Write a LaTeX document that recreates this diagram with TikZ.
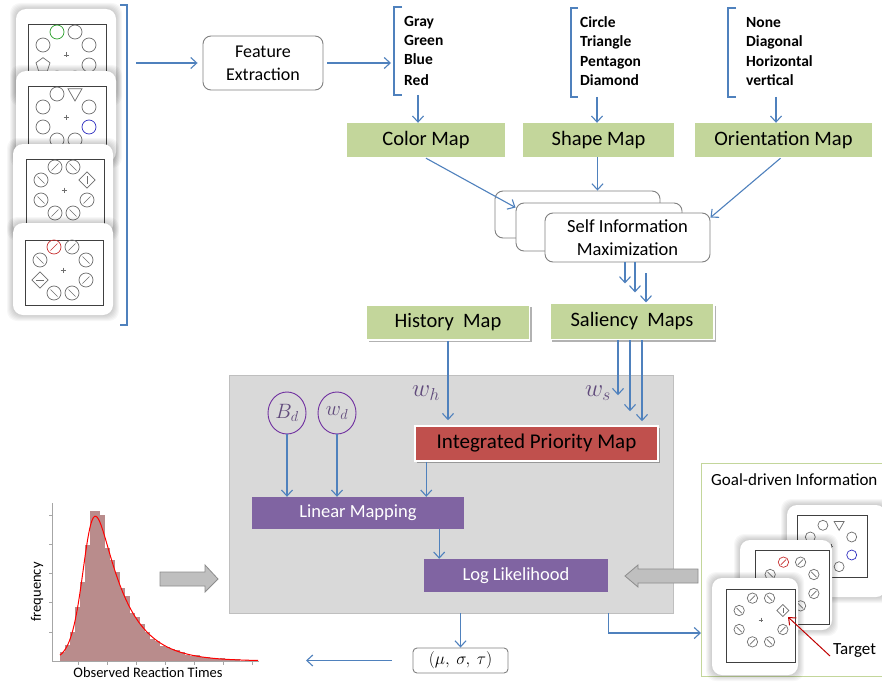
\documentclass[tikz,border=0pt]{standalone}
\usepackage{fontspec}
\setmainfont{Carlito}
\usetikzlibrary{arrows.meta,calc,shapes.geometric,shadows}
\definecolor{linkblue}{HTML}{4F81BD}
\definecolor{gfill}{HTML}{C3D69B}
\definecolor{pfill}{HTML}{8064A2}
\definecolor{rfill}{HTML}{C0504D}
\definecolor{modelbg}{HTML}{D9D9D9}
\definecolor{modeledge}{HTML}{BFBFBF}
\definecolor{mathpurp}{HTML}{604A7B}
\definecolor{circpurp}{HTML}{7030A0}
\definecolor{histbar}{HTML}{B98C8C}
\definecolor{stimgray}{HTML}{6E6E6E}
\definecolor{stimgreen}{HTML}{2CA02C}
\definecolor{stimblue}{HTML}{3030C0}
\definecolor{stimred}{HTML}{C83232}
\definecolor{blockfill}{HTML}{BFBFBF}
\definecolor{blockedge}{HTML}{8C8C8C}
\definecolor{boxedge}{HTML}{808080}
\definecolor{targetred}{HTML}{C00000}
\newcommand\fsz[2]{\fontsize{#1}{#2}\selectfont}
% stimulus items
\newcommand\iC[2][stimgray]{\draw[#1,line width=0.7pt] (#2) circle[radius=\ir];}
\newcommand\iS[3][stimgray]{\draw[#1,line width=0.7pt] (#2) circle[radius=\ir];
  \draw[#1,line width=0.7pt] (#2) ++({-.5*\ir},{(#3)*.5*\ir}) -- ++({\ir},{-(#3)*\ir});}
\newcommand\iT[2][stimgray]{\draw[#1,line width=0.7pt] (#2) ++({-\ir},{-.75*\ir}) -- ++({2*\ir},0) -- ++({-\ir},{1.75*\ir}) -- cycle;}
\newcommand\iP[2][stimgray]{\draw[#1,line width=0.7pt] (#2) ++(0,{-1.05*\ir}) -- ++({-1.0*\ir},{.73*\ir}) -- ++({.38*\ir},{1.17*\ir}) -- ++({1.24*\ir},0) -- ++({.38*\ir},{-1.17*\ir}) -- cycle;}
\newcommand\iDv[2][stimgray]{\draw[#1,line width=0.7pt] (#2) ++(0,{-1.15*\ir}) -- ++({1.15*\ir},{1.15*\ir}) -- ++({-1.15*\ir},{1.15*\ir}) -- ++({-1.15*\ir},{-1.15*\ir}) -- cycle;
  \draw[#1,line width=0.7pt] (#2) ++(0,{-.55*\ir}) -- ++(0,{1.1*\ir});}
\newcommand\iDh[2][stimgray]{\draw[#1,line width=0.7pt] (#2) ++(0,{-1.15*\ir}) -- ++({1.15*\ir},{1.15*\ir}) -- ++({-1.15*\ir},{1.15*\ir}) -- ++({-1.15*\ir},{-1.15*\ir}) -- cycle;
  \draw[#1,line width=0.7pt] (#2) ++({-.55*\ir},0) -- ++({1.1*\ir},0);}
\newcommand\stimcard[8]{%
  \foreach \k in {1,...,6}{\fill[black,opacity=0.03,rounded corners=10pt] ({#1-\k},{#2-\k}) rectangle ({#3+\k},{#4+\k});}
  \fill[white,rounded corners=10pt] (#1,#2) rectangle (#3,#4);
  \draw[black!75,line width=0.8pt] (#5,#6) rectangle (#7,#8);}
\newcommand\panelsetup[2]{\def\ps{#1}\def\ir{#2}%
  \coordinate (TL) at (-9*\ps,-23*\ps); \coordinate (TR) at (9*\ps,-23*\ps);
  \coordinate (RU) at (23*\ps,-10*\ps); \coordinate (RL) at (23*\ps,10*\ps);
  \coordinate (BR) at (9*\ps,23*\ps); \coordinate (BL) at (-9*\ps,23*\ps);
  \coordinate (LL) at (-23*\ps,10*\ps); \coordinate (LU) at (-23*\ps,-10*\ps);
  \draw[stimgray,line width=0.7pt] (0,{-2.5*\ps}) -- (0,{2.5*\ps}) ({-2.5*\ps},0) -- ({2.5*\ps},0);}
\newcommand\designA{\iC[stimgreen]{TL}\iC{TR}\iC{RU}\iC{RL}\iC{BR}\iC{BL}\iP{LL}\iC{LU}}
\newcommand\designB{\iC{TL}\iT{TR}\iC{RU}\iC[stimblue]{RL}\iC{BR}\iC{BL}\iC{LL}\iC{LU}}
\newcommand\designC{\iS{TL}{1}\iS{TR}{-1}\iDv{RU}\iS{RL}{1}\iS{BR}{-1}\iS{BL}{1}\iS{LL}{-1}\iS{LU}{-1}}
\newcommand\designD{\iS[stimred]{TL}{1}\iS{TR}{1}\iS{RU}{-1}\iS{RL}{1}\iS{BR}{-1}\iS{BL}{-1}\iDh{LL}\iS{LU}{-1}}
\begin{document}
\begin{tikzpicture}[x=1pt,y=-1pt,
  arr/.style={draw=linkblue,line width=1.1pt,-{Straight Barb[length=6pt,width=11pt]}},
  bline/.style={draw=linkblue,line width=1.1pt},
  gbox/.style={fill=gfill,text=black,inner sep=0pt,font=\fsz{20.5}{24}},
  gshadow/.style={draw=white,line width=1.5pt,drop shadow={shadow xshift=2pt,shadow yshift=-2pt,fill=black,opacity=0.3}},
  pbox/.style={fill=pfill,text=white,inner sep=0pt,font=\fsz{18.5}{22}},
  listtxt/.style={anchor=base west,inner sep=0pt,font=\bfseries\fsz{15.5}{19}},
  simbox/.style={draw=boxedge,fill=white,line width=0.9pt,rounded corners=8pt,inner sep=0pt},
  mathlbl/.style={text=mathpurp,inner sep=0pt}]
\useasboundingbox (0,0) rectangle (882,682);
\fill[white] (0,0) rectangle (882,682);

% ---------- left stimulus stack ----------
\begin{scope}[shift={(66,55)}]
  \stimcard{-50}{-46}{50}{45}{-38}{-31}{40}{35}\panelsetup{1}{7}\designA
\end{scope}
\begin{scope}[shift={(66,117)}]
  \stimcard{-50}{-46}{50}{45}{-38}{-31}{40}{35}\panelsetup{1}{7}\designB
\end{scope}
\begin{scope}[shift={(64,190)}]
  \stimcard{-51}{-46}{49}{45}{-38}{-31}{40}{35}\panelsetup{1}{7}\designC
\end{scope}
\begin{scope}[shift={(63,270)}]
  \stimcard{-50}{-47}{50}{45}{-38}{-30}{40}{35}\panelsetup{1}{7}\designD
\end{scope}

% left bracket
\draw[bline] (120,5) -- (127,5) -- (127,325) -- (120,325);
\coordinate (lbr) at (127,63);

% ---------- feature extraction ----------
\node[simbox,minimum width=120pt,minimum height=54pt,align=center,font=\fsz{18}{23}] (fe) at (263,63) {Feature\\Extraction};
\draw[arr,shorten <=9pt,shorten >=5pt] (lbr) -- (fe.west);
\coordinate (cbr) at (391,63);
\draw[arr,shorten <=4pt] (fe.east) -- (cbr);

% feature lists
\draw[bline] (402,7) -- (394,7) -- (394,95) -- (402,95);
\node[listtxt] (c1) at (404,27) {Gray};
\node[listtxt] (c2) at (404,46) {Green};
\node[listtxt] (c3) at (404,65) {Blue};
\node[listtxt] (c4) at (404,85) {Red};
\draw[bline] (578,8) -- (571,8) -- (571,97) -- (578,97);
\node[listtxt] (s1) at (580,28) {Circle};
\node[listtxt] (s2) at (580,47) {Triangle};
\node[listtxt] (s3) at (580,67) {Pentagon};
\node[listtxt] (s4) at (580,86) {Diamond};
\draw[bline] (736,8) -- (728,8) -- (728,97) -- (736,97);
\node[listtxt] (o1) at (746,28) {None};
\node[listtxt] (o2) at (746,47) {Diagonal};
\node[listtxt] (o3) at (746,67) {Horizontal};
\node[listtxt] (o4) at (746,86) {vertical};

% feature maps
\node[gbox,minimum width=158pt,minimum height=34pt] (cmap) at (426,140) {Color Map};
\node[gbox,minimum width=151pt,minimum height=34pt] (smap) at (598.5,140) {Shape Map};
\node[gbox,minimum width=177pt,minimum height=34pt] (omap) at (783.5,140) {Orientation Map};
\coordinate (cbot) at (418,95);
\coordinate (sbot) at (597,97);
\coordinate (obot) at (776,97);
\draw[arr] (cbot) -- (cbot |- cmap.north);
\draw[arr] (sbot) -- (sbot |- smap.north);
\draw[arr] (obot) -- (obot |- omap.north);

% self information maximization stack
\node[simbox,minimum width=165pt,minimum height=47pt] (sim1) at (577.5,214.5) {};
\node[simbox,minimum width=166pt,minimum height=48pt] (sim2) at (599,227) {};
\node[simbox,minimum width=165pt,minimum height=49pt,align=center,font=\fsz{18.5}{23}] (sim3) at (627.5,237.5) {Self Information\\Maximization};
\draw[arr] ($(cmap.south)+(0,1)$) -- ($(sim2.north west)+(0,5)$);
\coordinate (sout) at ($(smap.south)+(-1,0)$);
\draw[arr] (sout) -- (sout |- sim1.north);
\draw[arr] ($(omap.south)+(-3,1)$) -- ($(sim3.north east)+(0,5)$);

% history and saliency
\node[gbox,gshadow,minimum width=163pt,minimum height=35pt] (hist) at (448,322.5) {History\ \ Map};
\node[gbox,gshadow,minimum width=164pt,minimum height=36pt] (sal) at (632,321.5) {Saliency\ \ Maps};
\draw[arr] ($(sim3.south)+(-2.5,0)$) -- ($(sim3.south)+(-2.5,21)$);
\draw[arr] ($(sim3.south)+(7.5,0)$) -- ($(sim3.south)+(7.5,30)$);
\draw[arr] ($(sim3.south)+(18.5,11)$) -- ($(sim3.south)+(18.5,40)$);

% ---------- model box ----------
\node[draw=modeledge,fill=modelbg,line width=0.9pt,minimum width=444pt,minimum height=238pt,inner sep=0pt] (model) at (451,494) {};
\node[fill=rfill,gshadow,text=black,inner sep=0pt,font=\fsz{21}{24},minimum width=243pt,minimum height=35pt] (ipm) at (536.5,443.5) {Integrated Priority Map};
\node[pbox,minimum width=212pt,minimum height=32pt] (lm) at (358,513) {Linear Mapping};
\node[pbox,minimum width=184pt,minimum height=33pt] (ll) at (516,575.5) {Log Likelihood};
\node[ellipse,draw=circpurp,line width=0.9pt,minimum width=38pt,minimum height=42pt,inner sep=0pt,text=mathpurp,font=\fsz{20}{23}] (bd) at (287,413) {$B_d$};
\node[ellipse,draw=circpurp,line width=0.9pt,minimum width=38pt,minimum height=42pt,inner sep=0pt,text=mathpurp,font=\fsz{20}{23}] (wd) at (337,413) {$w_d$};
\node[mathlbl,font=\fsz{25}{28}] (wh) at (426,393) {$w_h$};
\node[mathlbl,font=\fsz{25}{28}] (ws) at (598,393) {$w_s$};

\draw[arr,shorten >=5pt] (hist.south) -- (hist.south |- ipm.north);
\draw[arr] ($(sal.south)+(-14,0)$) -- ($(sal.south)+(-14,55)$);
\draw[arr] ($(sal.south)+(-2,0)$) -- ($(sal.south)+(-2,71)$);
\coordinate (salout) at ($(sal.south)+(10,0)$);
\draw[arr,shorten >=4pt] (salout) -- (salout |- ipm.north);
\draw[arr] (bd.south) -- (bd.south |- lm.north);
\draw[arr] (wd.south) -- (wd.south |- lm.north);
\coordinate (ipmout) at ($(ipm.south west)+(12,0)$);
\draw[arr] (ipmout) -- (ipmout |- lm.north);
\coordinate (lmout) at ($(lm.south east)+(-25,0)$);
\draw[arr] (lmout) -- (lmout |- ll.north);

% parameters
\node[draw=boxedge,fill=white,line width=0.9pt,rounded corners=4pt,minimum width=95pt,minimum height=25pt,inner sep=0pt,font=\fsz{16}{19}] (mu) at (460.5,660.5) {$(\mu,\ \sigma,\ \tau)$};
\draw[arr] (mu.north |- model.south) -- (mu.north);
\coordinate (rtend) at (306,661);
\draw[arr,shorten <=21pt] (mu.west) -- (mu.west -| rtend);

% ---------- goal-driven information ----------
\node[draw=gfill,line width=1.3pt,minimum width=191pt,minimum height=213pt,inner sep=0pt,anchor=north west] (goal) at (701,463) {};
\node[anchor=west,inner sep=0pt,font=\fsz{17}{20}] (gtitle) at (711,480) {Goal-driven Information};
\coordinate (gin) at (701,633);
\draw[arr] (ll.east |- model.south) |- (gin);
\begin{scope}[shift={(831,546)}]
  \stimcard{-44}{-41}{55}{51}{-34}{-31}{36}{31}\panelsetup{0.9}{5}\designB
\end{scope}
\begin{scope}[shift={(792,584)}]
  \stimcard{-52}{-44}{40}{46}{-37}{-34}{37}{40}\panelsetup{0.95}{5.2}\designD
\end{scope}
\begin{scope}[shift={(761,620)}]
  \stimcard{-49}{-42}{37}{55}{-35}{-31}{34}{42}\panelsetup{0.95}{5.2}\designC
\end{scope}
\node[anchor=west,inner sep=0pt,font=\fsz{17}{20}] (tgt) at (833,650) {Target};
\coordinate (tgtpt) at (788,617);
\draw[draw=targetred,line width=1pt,-{Straight Barb[length=6pt,width=10pt]}] ($(tgt.west)+(-3,6)$) -- (tgtpt);

% block arrows
\draw[fill=blockfill,draw=blockedge,line width=0.8pt] (160,572) -- (205,572) -- (205,565) -- (218,579) -- (205,592) -- (205,586) -- (160,586) -- cycle;
\draw[fill=blockfill,draw=blockedge,line width=0.8pt] (698,569) -- (638,569) -- (638,565) -- (625,576) -- (638,587) -- (638,583) -- (698,583) -- cycle;

% ---------- histogram ----------
\pgfmathsetseed{11}
\foreach \i in {0,...,38}{
  \pgfmathsetmacro{\xl}{60+5*\i}
  \pgfmathsetmacro{\xc}{\xl+2.5}
  \pgfmathsetmacro{\hh}{max(0,275*exp(-(\xc-84)/28)/(1+exp(-1.702*((\xc-84)/10-0.357)))*(1+0.12*rand)+1.2*rand)}
  \fill[histbar] (\xl,661) rectangle ({\xl+5},{661-\hh});
}
\draw[gray!70,line width=1pt] (52,503) -- (52,661) -- (259,661);
\foreach \ty in {515,544,573,602,632} \draw[gray!70,line width=0.8pt] (49,\ty) -- (52,\ty);
\foreach \tx in {78,107,136,165,194,223,252} \draw[gray!70,line width=0.8pt] (\tx,661) -- (\tx,665);
\draw[red,line width=1pt] plot[domain=60:258,samples=150,smooth] (\x,{661-275*exp(-(\x-84)/28)/(1+exp(-1.702*((\x-84)/10-0.357)))});
\node[font=\fsz{14.5}{17},inner sep=0pt] (xlab) at (148,673) {Observed Reaction Times};
\node[font=\fsz{14.5}{17},inner sep=0pt,rotate=90] (ylab) at (37,592) {frequency};
\end{tikzpicture}
\end{document}
